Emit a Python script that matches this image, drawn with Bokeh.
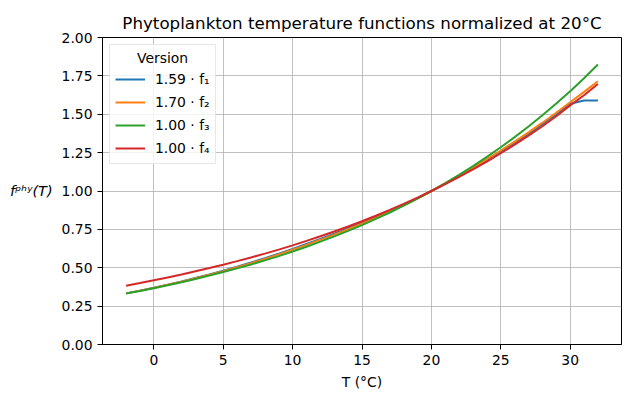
from bokeh.plotting import figure
from bokeh.models import (Range1d, FixedTicker, PrintfTickFormatter, Legend,
                          LegendItem)
from bokeh.embed import file_html
from bokeh.resources import INLINE

# ---- data ----
T = list(range(-2, 33))

f1_vals = [0.333, 0.351, 0.370, 0.390, 0.411, 0.433, 0.456, 0.481, 0.507, 0.534,
           0.562, 0.592, 0.623, 0.655, 0.688, 0.722, 0.757, 0.793, 0.830, 0.869,
           0.910, 0.954, 1.000, 1.048, 1.098, 1.150, 1.203, 1.258, 1.315, 1.374,
           1.436, 1.500, 1.568, 1.590, 1.590]
f2_vals = [0.333, 0.351, 0.369, 0.389, 0.409, 0.431, 0.454, 0.478, 0.503, 0.530,
           0.557, 0.587, 0.618, 0.649, 0.682, 0.716, 0.751, 0.787, 0.825, 0.865,
           0.907, 0.952, 1.000, 1.050, 1.101, 1.154, 1.208, 1.264, 1.322, 1.382,
           1.445, 1.510, 1.578, 1.646, 1.715]
f3_vals = [0.332, 0.349, 0.367, 0.386, 0.406, 0.427, 0.449, 0.472, 0.496, 0.521,
           0.548, 0.576, 0.606, 0.637, 0.670, 0.704, 0.740, 0.778, 0.818, 0.860,
           0.905, 0.951, 1.000, 1.051, 1.105, 1.162, 1.222, 1.285, 1.351, 1.420,
           1.493, 1.570, 1.650, 1.735, 1.824]
f4_vals = [0.383, 0.400, 0.418, 0.437, 0.456, 0.477, 0.498, 0.520, 0.543, 0.567,
           0.592, 0.618, 0.646, 0.675, 0.705, 0.736, 0.769, 0.803, 0.839, 0.877,
           0.916, 0.957, 1.000, 1.045, 1.092, 1.141, 1.192, 1.246, 1.302, 1.361,
           1.422, 1.487, 1.558, 1.624, 1.697]

series = [f1_vals, f2_vals, f3_vals, f4_vals]
legend_labels = ["1.59 \u00b7 f\u2081", "1.70 \u00b7 f\u2082",
                 "1.00 \u00b7 f\u2083", "1.00 \u00b7 f\u2084"]
colors = ["#1f77b4", "#ff7f0e", "#2ca02c", "#d62728"]
legend_title = "Version"

x_ticks = [0, 5, 10, 15, 20, 25, 30]
y_ticks = [0.0, 0.25, 0.5, 0.75, 1.0, 1.25, 1.5, 1.75, 2.0]

FONT = "DejaVu Sans"
TICK_FS = "13.9px"

p = figure(width=640, height=400, output_backend="svg", toolbar_location=None,
           x_range=Range1d(-3.7, 33.7), y_range=Range1d(0, 2.0),
           min_border_left=102, min_border_right=19, min_border_top=37,
           min_border_bottom=56)

p.title.text = "Phytoplankton temperature functions normalized at 20\u00b0C"
p.title.align = "center"
p.title.text_font = FONT
p.title.text_font_size = "16.7px"
p.title.text_font_style = "normal"
p.title.text_color = "black"

p.background_fill_color = "white"
p.border_fill_color = "white"
p.outline_line_color = "black"
p.outline_line_width = 1
p.outline_line_alpha = 1

for ax in (p.xaxis[0], p.yaxis[0]):
    ax.axis_line_color = "black"
    ax.major_tick_line_color = "black"
    ax.major_tick_out = 5
    ax.major_tick_in = 0
    ax.minor_tick_line_color = None
    ax.major_label_text_font = FONT
    ax.major_label_text_font_size = TICK_FS
    ax.major_label_text_color = "black"
    ax.major_label_standoff = 5
    ax.axis_label_text_font = FONT
    ax.axis_label_text_font_size = TICK_FS
    ax.axis_label_text_color = "black"

p.xaxis[0].ticker = FixedTicker(ticks=x_ticks)
p.yaxis[0].ticker = FixedTicker(ticks=y_ticks)
p.yaxis[0].formatter = PrintfTickFormatter(format="%.2f")

p.xaxis[0].axis_label = "T (\u00b0C)"
p.xaxis[0].axis_label_text_font_style = "normal"
p.xaxis[0].axis_label_standoff = 6

p.yaxis[0].axis_label = "f\u1d56\u02b0\u02b8(T)"
p.yaxis[0].axis_label_text_font_style = "italic"
p.yaxis[0].axis_label_text_font_size = "14.5px"
p.yaxis[0].axis_label_orientation = "horizontal"
p.yaxis[0].axis_label_standoff = 6

for g in (p.xgrid[0], p.ygrid[0]):
    g.grid_line_color = "#b0b0b0"
    g.grid_line_width = 0.8
p.xgrid[0].ticker = FixedTicker(ticks=x_ticks)
p.ygrid[0].ticker = FixedTicker(ticks=y_ticks)

items = []
for vals, lab, col in zip(series, legend_labels, colors):
    r = p.line(T, vals, line_color=col, line_width=2)
    items.append(LegendItem(label=lab, renderers=[r]))

# non-breaking spaces push the title towards the centre of the box
legend = Legend(items=items, location="top_left",
                title="\u00a0" * 5 + legend_title)
legend.title_text_font = FONT
legend.title_text_font_size = TICK_FS
legend.title_text_font_style = "normal"
legend.title_text_color = "black"
legend.title_standoff = 3
legend.label_text_font = FONT
legend.label_text_font_size = TICK_FS
legend.label_text_color = "black"
legend.glyph_width = 30
legend.glyph_height = 20
legend.label_height = 20
legend.label_standoff = 10
legend.spacing = 3
legend.padding = 5
legend.margin = 7
legend.border_line_color = "#d0d0d0"
legend.border_line_width = 1
legend.background_fill_alpha = 0.8
p.add_layout(legend)

open("out.html", "w").write(file_html(p, INLINE))
